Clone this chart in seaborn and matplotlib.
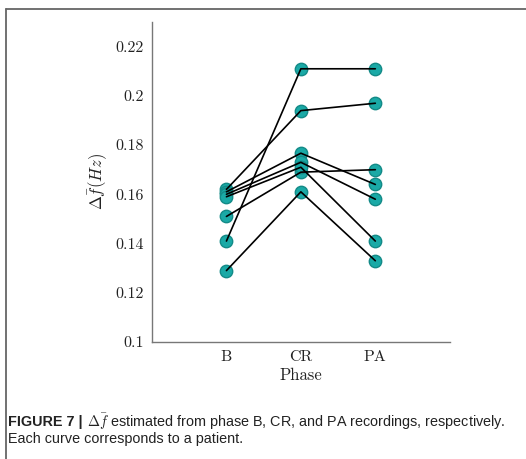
import matplotlib
matplotlib.use("Agg")
import matplotlib.pyplot as plt
import seaborn as sns
import pandas as pd
from matplotlib.lines import Line2D

phases = ["B", "CR", "PA"]
patients = ["P1", "P2", "P3", "P4", "P5", "P6", "P7"]
b_vals = [0.141, 0.162, 0.129, 0.151, 0.161, 0.160, 0.159]
cr_vals = [0.211, 0.194, 0.161, 0.169, 0.1767, 0.173, 0.171]
pa_vals = [0.211, 0.197, 0.133, 0.170, 0.164, 0.158, 0.141]
y_ticks = [0.1, 0.12, 0.14, 0.16, 0.18, 0.2, 0.22]
y_tick_labels = ["0.1", "0.12", "0.14", "0.16", "0.18", "0.2", "0.22"]

rows = []
for i, p in enumerate(patients):
    for j, (ph, vals) in enumerate(zip(phases, [b_vals, cr_vals, pa_vals])):
        rows.append({"patient": p, "phase": ph, "x": j + 1, "value": vals[i]})
df = pd.DataFrame(rows)

sns.set_style("white")
plt.rcParams["font.family"] = ["serif"]
plt.rcParams["font.serif"] = ["cmr10", "DejaVu Serif"]
plt.rcParams["mathtext.fontset"] = "cm"
plt.rcParams["axes.formatter.use_mathtext"] = True

fig = plt.figure(figsize=(5.26, 4.59), dpi=100)
ax = fig.add_axes([0.289, 0.255, 0.566, 0.697])

teal = "#1aa9a6"
sns.scatterplot(data=df, x="x", y="value", ax=ax, s=80, color=teal,
                edgecolor="#138a87", linewidth=1.0, zorder=2, legend=False)
sns.lineplot(data=df, x="x", y="value", units="patient", estimator=None,
             ax=ax, color="black", linewidth=1.2, zorder=3, legend=False,
             sort=False)

ax.set_xlim(0, 4)
ax.set_ylim(0.1, 0.23)
ax.set_xticks([1, 2, 3])
ax.set_xticklabels(phases)
ax.set_yticks(y_ticks)
ax.set_yticklabels(y_tick_labels)
ax.tick_params(direction="in", length=3, width=0.8, colors="#555555",
               labelcolor="#222222", labelsize=11.5, pad=6)
for s in ["top", "right"]:
    ax.spines[s].set_visible(False)
for s in ["left", "bottom"]:
    ax.spines[s].set_color("#777777")
    ax.spines[s].set_linewidth(1.0)
ax.set_xlabel("Phase", fontsize=12, color="#222222", labelpad=3)
ax.set_ylabel(r"$\Delta\bar{f}(Hz)$", fontsize=12, color="#222222", labelpad=4)

# figure border (top and left)
fig.add_artist(Line2D([6 / 526, 1.0], [1 - 8.5 / 459, 1 - 8.5 / 459],
                      transform=fig.transFigure, color="#666666", lw=1.3))
fig.add_artist(Line2D([6 / 526, 6 / 526], [0.0, 1 - 8.5 / 459],
                      transform=fig.transFigure, color="#666666", lw=1.3))

cap_font = ["Liberation Sans", "DejaVu Sans"]
t1 = fig.text(8 / 526, 1 - 422 / 459, "FIGURE 7 |", fontsize=10.4, fontweight="bold",
              family=cap_font, color="#222222", va="center", ha="left")
fig.canvas.draw()
bb = t1.get_window_extent()
x2 = (bb.x1 + 4) / fig.bbox.width
fig.text(x2, 1 - 422 / 459,
         r"$\Delta\bar{f}$ estimated from phase B, CR, and PA recordings, respectively.",
         fontsize=10.4, family=cap_font, color="#222222", va="center", ha="left")
fig.text(8 / 526, 1 - 439 / 459, "Each curve corresponds to a patient.",
         fontsize=10.4, family=cap_font, color="#222222", va="center", ha="left")

fig.savefig("out.png", dpi=100)
